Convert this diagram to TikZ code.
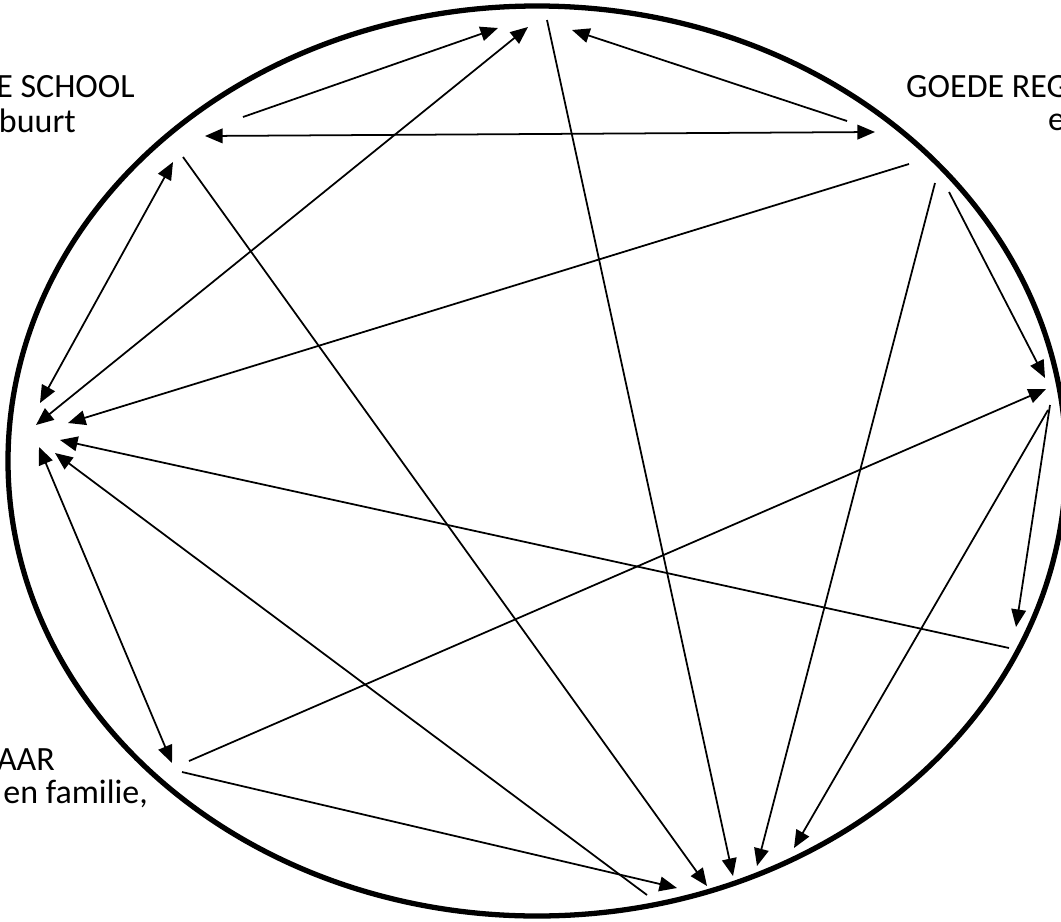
\documentclass[tikz,border=0pt]{standalone}
\usepackage{fontspec}
\setmainfont{Carlito}
\usepackage{tikz}
\usetikzlibrary{arrows.meta}

\begin{document}
\begin{tikzpicture}[x=0.03cm,y=-0.03cm,
        oneway/.style={line width=1.5pt,-{Triangle[length=15pt,width=12.5pt]}},
        twoway/.style={line width=1.5pt,{Triangle[length=15pt,width=12.5pt]}-{Triangle[length=15pt,width=12.5pt]}},
        txt/.style={font=\fontsize{29}{31}\selectfont,inner sep=0pt}]
        \useasboundingbox (0,0) rectangle (1061,921);
        \clip (0,0) rectangle (1061,921);

        \draw[line width=4.5pt] (537,461) ellipse [x radius=529, y radius=455];

        \foreach \n/\x/\y in {nw1/205/136, nw2/243/117, nw3/173/162, nw4/183/157,
                top1/498/28, top2/528/27, top3/547/20, top4/572/30,
                ne1/875/132, ne2/847/121, ne3/909/164, ne4/935/183, ne5/949/192,
                east1/1045/378, east2/1046/389, east3/1050/405, east4/1048/410,
                se1/1016/627, se2/1009/648,
                bot1/733/876, bot2/707/886, bot3/757/866, bot4/794/848, bot5/647/895, bot6/677/888,
                sw1/189/761, sw2/172/763, sw3/182/772,
                west1/36/425, west2/40/403, west3/68/423, west4/60/440, west5/39/447, west6/55/453}
            \coordinate (\n) at (\x,\y);

        \draw[twoway] (nw1) -- (ne1);
        \draw[oneway] (nw2) -- (top1);
        \draw[twoway] (west1) -- (top2);
        \draw[oneway] (top3) -- (bot1);
        \draw[oneway] (ne2) -- (top4);
        \draw[twoway] (nw3) -- (west2);
        \draw[oneway] (nw4) -- (bot2);
        \draw[oneway] (ne3) -- (west3);
        \draw[oneway] (ne4) -- (bot3);
        \draw[oneway] (ne5) -- (east1);
        \draw[oneway] (sw1) -- (east2);
        \draw[oneway] (east3) -- (se1);
        \draw[oneway] (east4) -- (bot4);
        \draw[oneway] (se2) -- (west4);
        \draw[twoway] (west5) -- (sw2);
        \draw[oneway] (bot5) -- (west6);
        \draw[oneway] (sw3) -- (bot6);

        \node[txt,anchor=base east] (school1) at (135,97) {E SCHOOL};
        \node[txt,anchor=base east] (school2) at (76,132) {buurt};
        \node[txt,anchor=base west] (regio1) at (906,97) {GOEDE REG};
        \node[txt,anchor=base west] (regio2) at (1048,130) {e};
        \node[txt,anchor=base east] (familie1) at (55,770) {AAR};
        \node[txt,anchor=base east] (familie2) at (148,803) {n en familie,};
\end{tikzpicture}
\end{document}
